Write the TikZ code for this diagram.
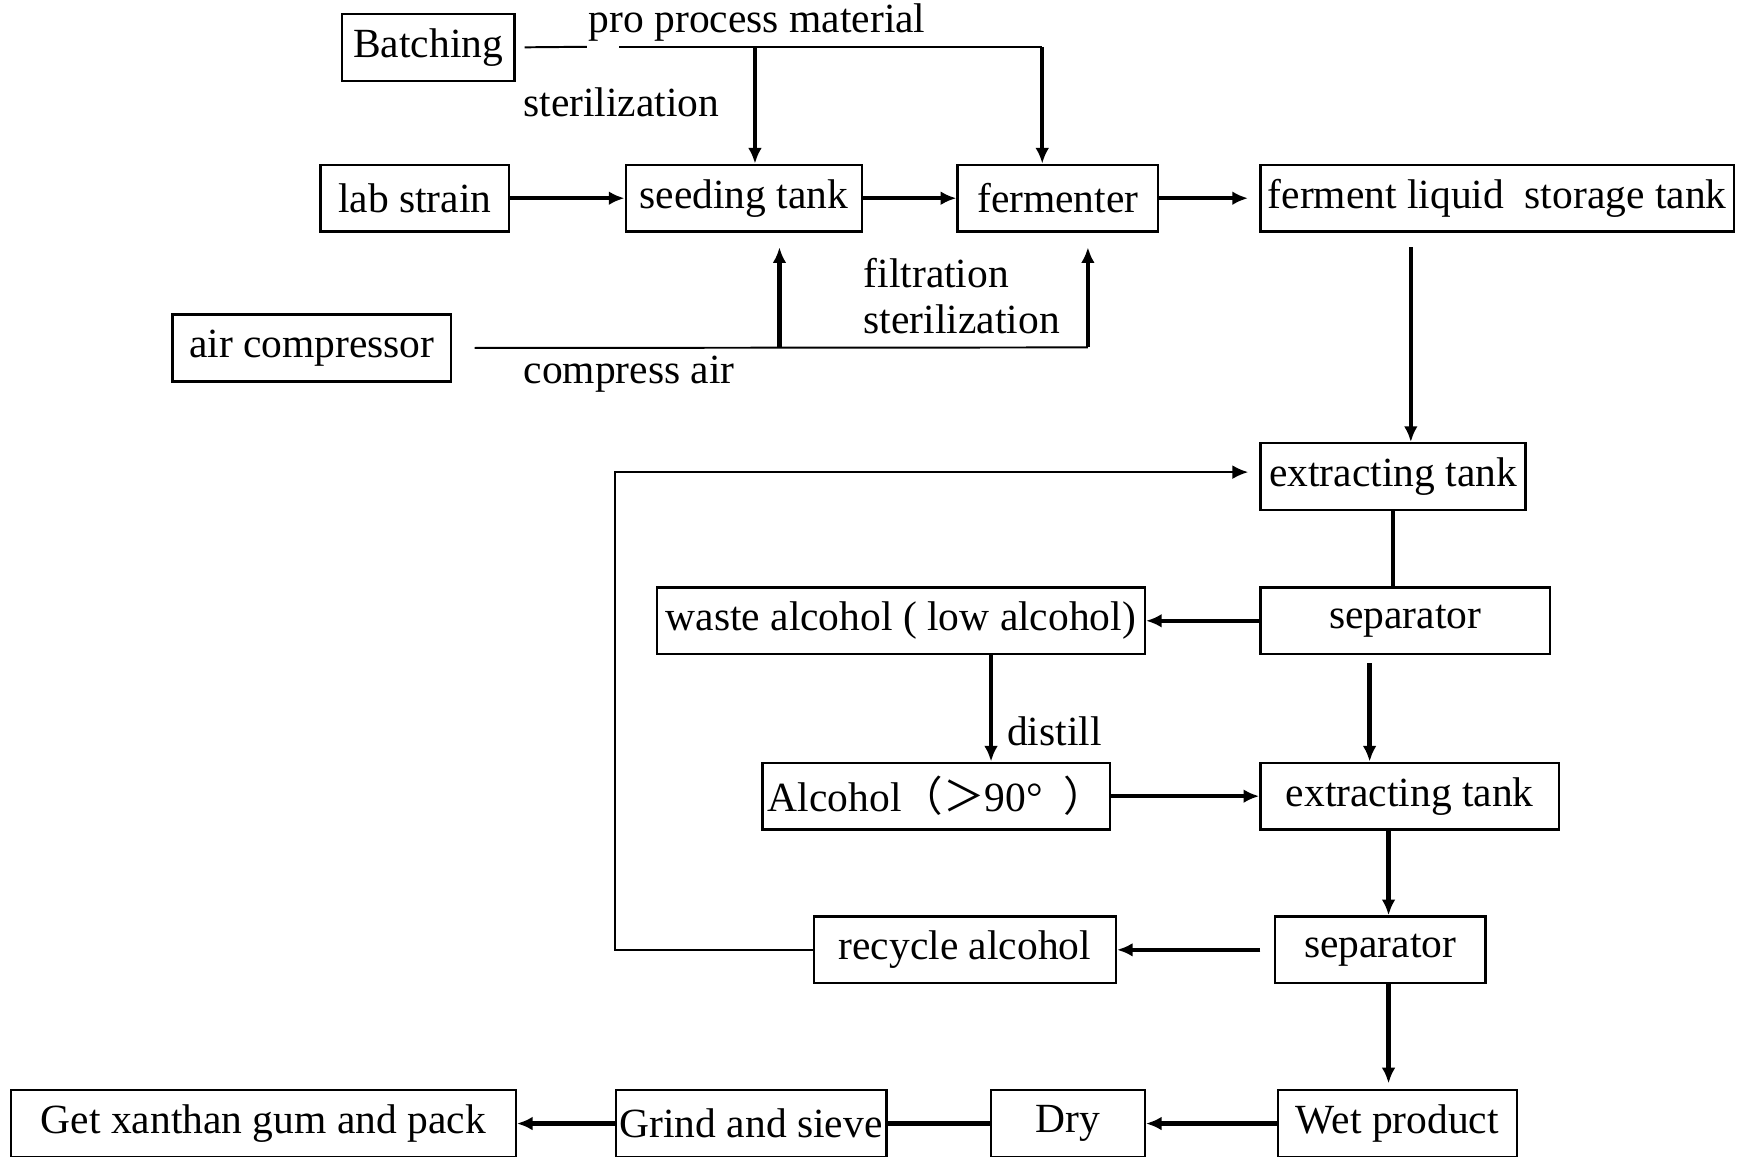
\documentclass[tikz,border=0pt]{standalone}
\usepackage{fontspec}
\setmainfont{Liberation Serif}
\newfontfamily\cjk{Noto Sans CJK SC}
\usetikzlibrary{arrows.meta}

\tikzset{
  box/.style={draw, line width=0.6pt, inner sep=0pt, minimum height=0.6cm,
    font=\fontsize{10.6}{12}\selectfont},
  lbl/.style={inner sep=0pt, font=\fontsize{10.6}{12}\selectfont},
  flow/.style={line width=1.1pt, -{Latex[length=4pt,width=3.5pt]}},
  bar/.style={line width=1.1pt},
  pipe/.style={line width=0.5pt}
}

\begin{document}
\begin{tikzpicture}[x=0.01cm, y=-0.01cm]
    \useasboundingbox (0,0) rectangle (1568,1039);

    % Top row
    \node[box, minimum width=1.55cm] (batch) at (384.5,42.5) {Batching};
    \node[box, minimum width=1.69cm] (lab) at (372.5,178) {lab strain};
    \node[box, minimum width=2.12cm] (seed) at (668,178) {seeding tank};
    \node[box, minimum width=1.80cm] (ferm) at (950,178) {fermenter};
    \node[box, minimum width=4.25cm] (store) at (1344.5,178) {ferment liquid\ \ storage tank};
    \node[box, minimum width=2.50cm] (aircomp) at (280,312.5) {air compressor};

    % Labels of the feed lines
    \node[lbl] (proc) at (680,20) {pro process material};
    \node[lbl] (steri) at (558,92) {sterilization};
    \node[lbl, anchor=west] (filt) at (775,245) {filtration};
    \node[lbl, anchor=west] (steriair) at (775,287) {sterilization};
    \node[lbl] (compair) at (565,336) {compress air};

    % Extraction part
    \node[box, minimum width=2.38cm] (ext1) at (1251,428) {extracting tank};
    \node[box, minimum width=2.60cm] (sep1) at (1262,557.5) {separator};
    \node[box, minimum width=4.38cm] (waste) at (809,557.5) {waste alcohol ( low alcohol)};
    \node[box, minimum width=3.12cm] (alc) at (841,715) {Alcohol{\cjk （＞}90°\ \ {\cjk ）}};
    \node[box, minimum width=2.68cm] (ext2) at (1266,715) {extracting tank};
    \node[lbl] (dist) at (947,657) {distill};
    \node[box, minimum width=1.89cm] (sep2) at (1239.5,853) {separator};
    \node[box, minimum width=2.71cm] (recyc) at (866.5,853) {recycle alcohol};

    % Bottom row
    \node[box, minimum width=2.14cm] (wet) at (1255,1009) {Wet product};
    \node[box, minimum width=1.38cm] (dry) at (959,1009) {Dry};
    \node[box, minimum width=2.43cm] (grind) at (674.5,1009) {Grind and sieve};
    \node[box, minimum width=4.53cm] (pack) at (236.5,1009) {Get xanthan gum and pack};

    % Columns and taps of the lines
    \coordinate (feedA) at (527,42);
    \coordinate (feedB) at (556,42);
    \coordinate (feedC) at (678,42);
    \coordinate (feedD) at (936,42);
    \coordinate (airA) at (700,312);
    \coordinate (airB) at (977,312);
    \coordinate (downA) at (1267,222);
    \coordinate (colA) at (890,0);
    \coordinate (colB) at (1230,0);
    \coordinate (colC) at (1247,0);
    \coordinate (back) at (552,424);

    % Material feed
    \draw[pipe] ([xshift=0.8mm]batch.east) -- (feedA);
    \draw[pipe] (feedB) -- (feedD);
    \draw[flow] (feedC) -- (feedC |- seed.north);
    \draw[flow] (feedD) -- (feedD |- ferm.north);

    % Compressed air
    \draw[pipe] ([xshift=2mm]aircomp.east) -- (airB);
    \draw[flow, shorten >=1.3mm] (airA) -- (airA |- seed.south);
    \draw[flow, shorten >=1.3mm] (airB) -- (airB |- ferm.south);

    % Fermentation line
    \draw[flow] (lab.east) -- (seed.west);
    \draw[flow] (seed.east) -- (ferm.west);
    \draw[flow, shorten >=1mm] (ferm.east) -- (store.west);
    \draw[flow] (downA) -- (downA |- ext1.north);

    % Extraction and alcohol
    \draw[bar] (ext1.south) -- (ext1.south |- sep1.north);
    \draw[flow] (sep1.west) -- (sep1.west -| waste.east);
    \draw[flow] (waste.south -| colA) -- (alc.north -| colA);
    \draw[flow, shorten <=0.7mm] (sep1.south -| colB) -- (ext2.north -| colB);
    \draw[flow] (alc.east) -- (ext2.west);
    \draw[flow] (ext2.south -| colC) -- (sep2.north -| colC);
    \draw[flow] ([xshift=-1.2mm]sep2.west) -- (recyc.east);
    \draw[pipe, -{Latex[length=4pt,width=3.5pt]}] (recyc.west) -| (back) -- ([xshift=-1mm]ext1.west |- back);

    % Product
    \draw[flow, shorten >=0.5mm] (sep2.south -| colC) -- (wet.north -| colC);
    \draw[flow] (wet.west) -- (dry.east);
    \draw[bar] (dry.west) -- (grind.east);
    \draw[flow] (grind.west) -- (pack.east);
\end{tikzpicture}
\end{document}
